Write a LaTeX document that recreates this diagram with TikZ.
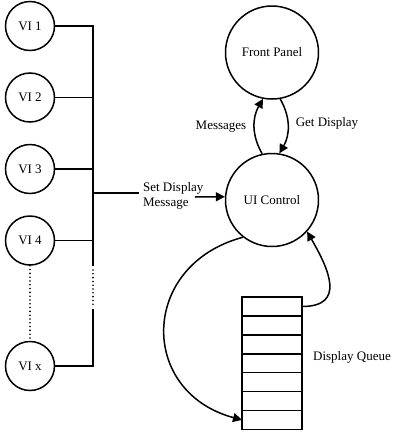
\documentclass[tikz,border=0pt]{standalone}
\usepackage{fontspec}
\setmainfont{Liberation Serif}
\usetikzlibrary{arrows.meta,positioning}

\begin{document}
\begin{tikzpicture}[
  x=1pt, y=-1pt,
  node distance=21pt and 8mm,
  font=\fontsize{13}{15}\selectfont,
  line width=1.5pt,
  vi/.style={circle, draw, minimum size=49pt, inner sep=0pt},
  proc/.style={circle, draw, minimum size=93pt, inner sep=0pt},
  cell/.style={rectangle, draw, outer sep=0pt, minimum width=60pt,
    minimum height=18.9pt, inner sep=0pt},
  arr/.style={-{Triangle[length=9pt,width=9pt]}},
  dots/.style={line cap=round, dash pattern=on 0pt off 3.8pt, line width=1.8pt}
]
\useasboundingbox (0,0) rectangle (400,437);

% senders
\node[vi] (vi1) at (30,26) {VI 1};
\node[vi, below=of vi1] (vi2) {VI 2};
\node[vi, below=of vi2] (vi3) {VI 3};
\node[vi, below=of vi3] (vi4) {VI 4};
\node[vi, below=75pt of vi4] (vix) {VI x};

% bus
\coordinate (bus) at (93,0);
\coordinate (gap1) at (93,266);
\coordinate (gap2) at (93,309);
\draw (vi1.east) -- (vi1.east -| bus) -- (gap1);
\foreach \n in {vi2,vi3,vi4}
  \draw (\n.east) -- (\n.east -| bus);
\draw[dots] ([yshift=-4pt]gap1) -- ([yshift=3pt]gap2);
\draw (gap2) -- (vix.east -| bus) -- (vix.east);
\draw[dots] (vi4) -- (vix);

% UI side
\node[proc] (ui) at (272,200) {UI Control};
\node[proc, above=53pt of ui] (fp) {Front Panel};

\node (msg) at (221,127) {Messages};
\node (get) at (327,123) {Get Display};
\draw[arr] (ui.102) to[out=120, in=-120] (fp.259);
\draw[arr] (fp.-80) to[out=-60, in=60] (ui.81);

\node[align=left, anchor=west] (sdm) at (139,196) {Set Display\\Message};
\coordinate (br) at (93,193);
\coordinate (sdt) at (195,197);
\draw (br) -- (br -| sdm.west);
\draw[arr] (sdt) -- (ui.176);

% display queue
\node[cell] (c1) at (272,306.5) {};
\foreach \i [count=\j from 2] in {1,...,6}
  \node[cell, below=0pt of c\i] (c\j) {};
\node (dq) at (352,357) {Display Queue};

\draw[arr] (ui.232) to[out=195, in=165, looseness=1.5] (c7.west);
\draw[arr] (c1.east) to[out=0, in=-60, looseness=1.5] (ui.-42);
\end{tikzpicture}
\end{document}
